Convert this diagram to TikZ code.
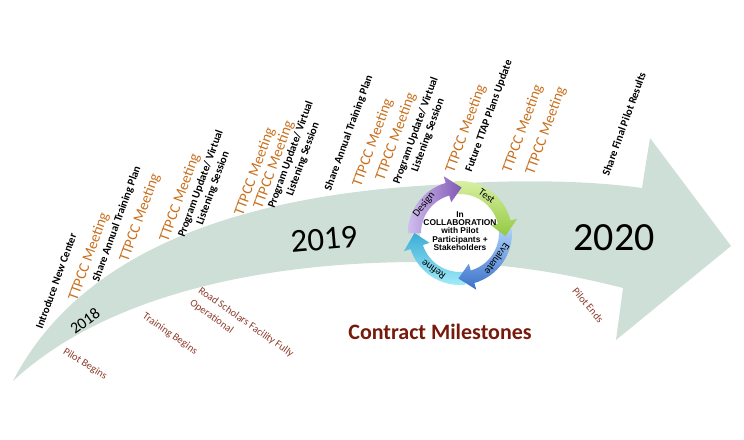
\documentclass[tikz,border=0pt]{standalone}
\usepackage{fontspec}
\setmainfont{Carlito}
\newfontfamily\hubfont{Liberation Sans}

\definecolor{bandgreen}{RGB}{205,223,214}
\definecolor{meetorange}{RGB}{200,112,30}
\definecolor{mstonebrown}{RGB}{140,58,42}
\definecolor{titlered}{RGB}{118,26,12}
\definecolor{designlo}{RGB}{208,190,238}
\definecolor{designhi}{RGB}{128,88,180}
\definecolor{testlo}{RGB}{218,242,165}
\definecolor{testhi}{RGB}{148,200,66}
\definecolor{evallo}{RGB}{172,208,250}
\definecolor{evalhi}{RGB}{58,112,200}
\definecolor{refinelo}{RGB}{165,238,250}
\definecolor{refinehi}{RGB}{58,172,214}

% one arrow of the cycle: tail angle, tip angle, shading
\newcommand{\stagearrow}[3]{%
  \shade[#3] (#1:52) arc[start angle=#1, end angle=#2+18, radius=52]
    -- ({#2+18}:59) -- (#2:45.5) -- ({#2+18}:32) -- ({#2+18}:39)
    arc[start angle=#2+18, end angle=#1, radius=39] -- cycle;}

\tikzset{
  meeting/.style={text=meetorange, font=\fontsize{15}{18}\selectfont, rotate=70, inner sep=0pt},
  task/.style={font=\bfseries\fontsize{11}{13}\selectfont, rotate=70, align=center, inner sep=0pt},
  milestone/.style={text=mstonebrown, font=\fontsize{10.5}{15}\selectfont, rotate=-35, inner sep=0pt},
  yearlabel/.style={inner sep=0pt},
  stagetext/.style={font=\fontsize{10.5}{13}\selectfont, inner sep=0pt},
  hubtext/.style={font=\hubfont\bfseries\fontsize{8.4}{8.4}\selectfont, align=center, inner sep=0pt},
}

\begin{document}
\begin{tikzpicture}[x=1pt, y=-1pt]
  \useasboundingbox (0,0) rectangle (744,439);

  % the big curved arrow
  \fill[bandgreen] (13,381) .. controls (60,290) and (170,200) .. (433,185)
    .. controls (530,178) and (600,182) .. (642,188)
    -- (650,138) -- (731,246) -- (616,340) -- (623,288)
    .. controls (560,272) and (500,262) .. (420,262)
    .. controls (250,262) and (100,300) .. (13,381) -- cycle;

  % years
  \node[yearlabel, font=\fontsize{16}{18}\selectfont, rotate=36] (y2018) at (85,321) {2018};
  \node[yearlabel, font=\fontsize{33}{36}\selectfont, rotate=5] (y2019) at (324,239) {2019};
  \node[yearlabel, font=\fontsize{40}{44}\selectfont] (y2020) at (614,238) {2020};

  % events above the arrow
  \node[task] (intro) at (56,281) {Introduce New Center};
  \node[meeting] (meet1) at (89,257) {TTPCC Meeting};
  \node[task] (plan1) at (117,224) {Share Annual Training Plan};
  \node[meeting] (meet2) at (140,218) {TTPCC Meeting};
  \node[meeting] (meet3) at (180,198) {TTPCC Meeting};
  \node[task] (update1) at (207,186) {Program Update/ Virtual\\Listening Session};
  \node[meeting] (meet4) at (255,172) {TTPCC Meeting};
  \node[meeting] (meet5) at (274,165) {TTPCC Meeting};
  \node[task] (update2) at (297,157) {Program Update/ Virtual\\Listening Session};
  \node[task] (plan2) at (349,133) {Share Annual Training Plan};
  \node[meeting] (meet6) at (373,143) {TTPCC Meeting};
  \node[meeting] (meet7) at (396,137) {TTPCC Meeting};
  \node[task] (update3) at (422,133) {Program Update/ Virtual\\Listening Session};
  \node[meeting] (meet8) at (466,129) {TTPCC Meeting};
  \node[task] (future) at (489,116) {Future TTAP Plans Update};
  \node[meeting] (meet9) at (523,129) {TTPCC Meeting};
  \node[meeting] (meet10) at (546,131) {TTPCC Meeting};
  \node[task] (results) at (624,124) {Share Final Pilot Results};

  % milestones below the arrow
  \node[milestone, rotate=3] (pilotstart) at (85,364) {Pilot Begins};
  \node[milestone] (training) at (170,334) {Training Begins};
  \node[milestone, anchor=north west, align=left] (facility) at (202,286) {Road Scholars Facility Fully\\Operational};
  \node[milestone, rotate=-15] (pilotend) at (588,305) {Pilot Ends};
  \node[font=\bfseries\fontsize{22}{24}\selectfont, text=titlered, inner sep=0pt, anchor=base] (contract) at (440,339) {Contract Milestones};

  % design cycle
  \coordinate (hubc) at (460,233);
  \begin{scope}[shift={(hubc)}, y=1pt]
    \fill[white] (0,0) circle[radius=40];
    \stagearrow{-84}{-180}{bottom color=refinelo, top color=refinehi}
    \stagearrow{4}{-92}{top color=evallo, bottom color=evalhi}
    \stagearrow{96}{-4}{top color=testlo, bottom color=testhi}
    \stagearrow{180}{88}{left color=designlo, right color=designhi}
    \node[stagetext, rotate=52] (design) at (142:45.5) {Design};
    \node[stagetext, rotate=-36] (test) at (54:45.5) {Test};
    \node[stagetext, rotate=-125] (evaluate) at (-35:45.5) {Evaluate};
    \node[stagetext, rotate=144] (refine) at (-126:45.5) {Refine};
    \node[hubtext] (hub) at (0,2) {In\\COLLABORATION\\with Pilot\\Participants +\\Stakeholders};
  \end{scope}
\end{tikzpicture}
\end{document}
